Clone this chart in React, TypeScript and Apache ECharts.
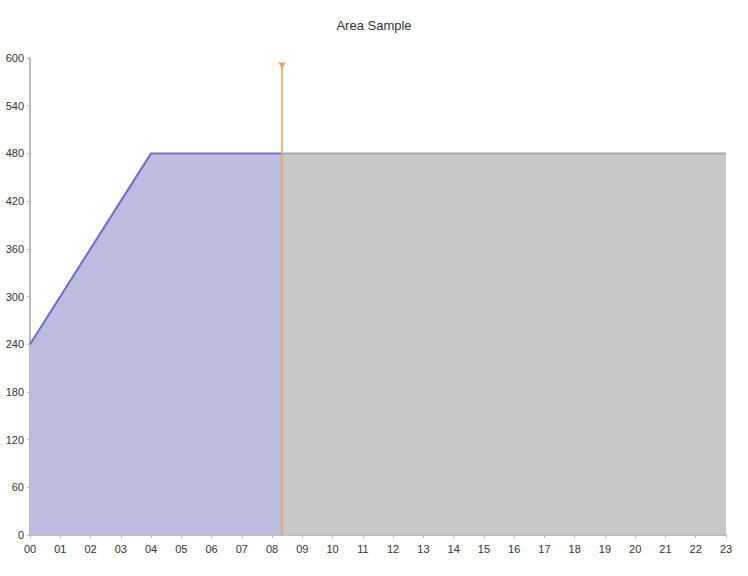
import React, { useEffect, useRef } from 'react';
import * as echarts from 'echarts';

const hourLabels = Array.from({ length: 24 }, (_, i) => String(i).padStart(2, '0'));
const pastPoints: Array<[number, number]> = [[0, 240], [4, 480], [8.33, 480]];
const futurePoints: Array<[number, number]> = [[8.33, 480], [23, 480]];
const nowMarker = 8.33;

export default function App() {
  const ref = useRef<HTMLDivElement>(null);

  useEffect(() => {
    document.body.style.margin = '0';
    if (!ref.current) return;
    const chart = echarts.init(ref.current, undefined, { renderer: 'svg' });
    chart.setOption({
      animation: false,
      title: {
        text: 'Area Sample',
        left: 'center',
        top: 14,
        textStyle: { fontSize: 13, fontWeight: 'normal', color: '#333', fontFamily: 'Arial' },
      },
      grid: { left: 30, right: 22, top: 58, bottom: 41 },
      xAxis: {
        type: 'value',
        min: 0,
        max: 23,
        interval: 1,
        splitLine: { show: false },
        axisLine: { lineStyle: { color: '#bbb', width: 2 } },
        axisTick: { show: true, lineStyle: { color: '#bbb' }, length: 3 },
        axisLabel: {
          color: '#333',
          fontSize: 11,
          fontFamily: 'Arial',
          formatter: (v: number) => hourLabels[v] ?? '',
        },
      },
      yAxis: {
        type: 'value',
        min: 0,
        max: 600,
        interval: 60,
        splitLine: { show: false },
        axisLine: { show: true, lineStyle: { color: '#bbb', width: 2 } },
        axisTick: { show: true, lineStyle: { color: '#bbb' }, length: 3 },
        axisLabel: { color: '#333', fontSize: 11, fontFamily: 'Arial', margin: 6 },
      },
      series: [
        {
          type: 'line',
          data: futurePoints,
          symbol: 'none',
          lineStyle: { color: '#a8a8a8', width: 2 },
          areaStyle: { color: '#c8c8c8', opacity: 1 },
          z: 1,
        },
        {
          type: 'line',
          data: pastPoints,
          symbol: 'none',
          lineStyle: { color: '#7469c4', width: 2 },
          areaStyle: { color: '#bcbbe0', opacity: 1 },
          z: 2,
          markLine: {
            silent: true,
            symbol: ['none', 'triangle'],
            symbolSize: [7, 7],
            symbolRotate: 180,
            label: { show: false },
            lineStyle: { type: 'solid', color: '#f0a060', width: 1.5 },
            itemStyle: { color: '#f07820' },
            data: [[{ coord: [nowMarker, 0] }, { coord: [nowMarker, 590] }]],
          },
        },
      ],
    });
    return () => chart.dispose();
  }, []);

  return <div ref={ref} style={{ width: 748, height: 576 }} />;
}
